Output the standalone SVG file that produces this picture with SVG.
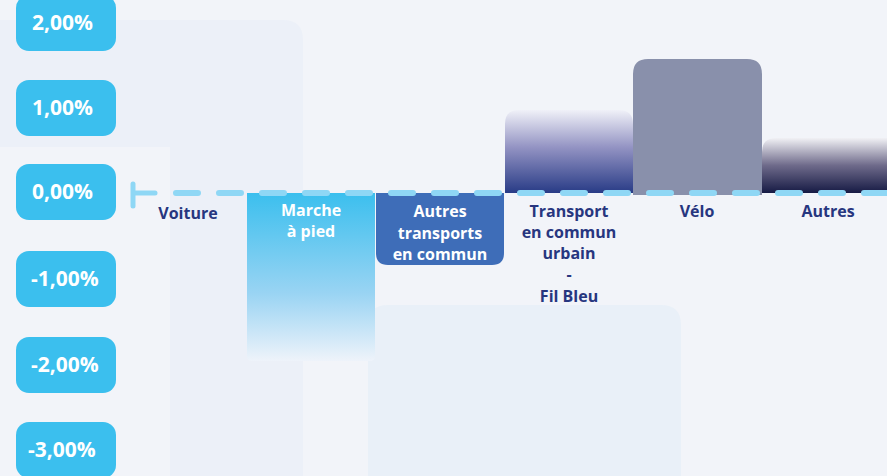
<svg xmlns="http://www.w3.org/2000/svg" width="887" height="476" viewBox="0 0 887 476">
<defs>
<style>
.pill{fill:#3bbfee}
.pt{font-family:"Open Sans","Liberation Sans",sans-serif;font-weight:700;font-size:21px;fill:#ffffff}
.lbl{font-family:"Open Sans","Liberation Sans",sans-serif;font-weight:700;font-size:16px;fill:#27367f;text-anchor:middle}
.lw{fill:#ffffff}
</style>
<linearGradient id="gMarche" x1="0" y1="0" x2="0" y2="1">
<stop offset="0" stop-color="#3bbfee"/>
<stop offset="0.6" stop-color="#9ad4f3"/>
<stop offset="1" stop-color="#eef3fa"/>
</linearGradient>
<linearGradient id="gTcu" x1="0" y1="0" x2="0" y2="1">
<stop offset="0" stop-color="#f0f1f8"/>
<stop offset="0.45" stop-color="#9393c3"/>
<stop offset="1" stop-color="#283b86"/>
</linearGradient>
<linearGradient id="gAutres" x1="0" y1="0" x2="0" y2="1">
<stop offset="0" stop-color="#f1f1f5"/>
<stop offset="0.5" stop-color="#6e6a8a"/>
<stop offset="1" stop-color="#161a44"/>
</linearGradient>
</defs>
<rect width="887" height="476" fill="#f2f4f9"/>
<g id="panels">
<path d="M0 20 H283 Q303 20 303 40 V476 H0 Z" fill="#ecf0f8"/>
<rect x="0" y="147" width="170" height="329" fill="#f2f4f9"/>
<path d="M368 476 V325 Q368 305 388 305 H661 Q681 305 681 325 V476 Z" fill="#e9f0f8"/>
</g>
<g id="axis">
<g id="y2"><rect class="pill" x="16" y="-5" width="100" height="56" rx="13"/><text class="pt" x="32" y="30">2,00%</text></g>
<g id="y1"><rect class="pill" x="16" y="80" width="100" height="56" rx="13"/><text class="pt" x="32" y="115">1,00%</text></g>
<g id="y0"><rect class="pill" x="16" y="164" width="100" height="56" rx="13"/><text class="pt" x="32" y="199">0,00%</text></g>
<g id="ym1"><rect class="pill" x="16" y="251" width="100" height="56" rx="13"/><text class="pt" x="31" y="286">-1,00%</text></g>
<g id="ym2"><rect class="pill" x="16" y="337" width="100" height="56" rx="13"/><text class="pt" x="31" y="372">-2,00%</text></g>
<g id="ym3"><rect class="pill" x="16" y="422" width="100" height="56" rx="13"/><text class="pt" x="28" y="457">-3,00%</text></g>
</g>
<g id="bar-voiture"><text class="lbl" x="188" y="219">Voiture</text></g>
<g id="bar-marche">
<path d="M247 193 H375 V356 Q375 361 370 361 H252 Q247 361 247 356 Z" fill="url(#gMarche)"/>
<text class="lbl lw" x="311" y="216">Marche</text>
<text class="lbl lw" x="311" y="237">à pied</text>
</g>
<g id="bar-atc">
<path d="M376 193 H504 V253 Q504 265 492 265 H388 Q376 265 376 253 Z" fill="#3e6db8"/>
<text class="lbl lw" x="440" y="217">Autres</text>
<text class="lbl lw" x="440" y="239">transports</text>
<text class="lbl lw" x="440" y="260">en commun</text>
</g>
<g id="bar-tcu">
<path d="M505 193 V124 Q505 110 519 110 H619 Q633 110 633 124 V193 Z" fill="url(#gTcu)"/>
<text class="lbl" x="569" y="217">Transport</text>
<text class="lbl" x="569" y="238">en commun</text>
<text class="lbl" x="569" y="259">urbain</text>
<text class="lbl" x="569" y="280">-</text>
<text class="lbl" x="569" y="302">Fil Bleu</text>
</g>
<g id="bar-velo">
<path d="M633 195 V74 Q633 59 648 59 H747 Q762 59 762 74 V195 Z" fill="#8990ab"/>
<text class="lbl" x="697" y="217">Vélo</text>
</g>
<g id="bar-autres">
<path d="M762 193 V152 Q762 138 776 138 H887 V193 Z" fill="url(#gAutres)"/>
<text class="lbl" x="828" y="217">Autres</text>
</g>
<g id="connectors">
<line x1="133" y1="184" x2="133" y2="206" stroke="#8fd7f5" stroke-width="5" stroke-linecap="round"/>
<line x1="135" y1="193" x2="155" y2="193" stroke="#8fd7f5" stroke-width="5" stroke-linecap="round"/>
<line x1="176" y1="193" x2="887" y2="193" stroke="#8fd7f5" stroke-width="6" stroke-linecap="round" stroke-dasharray="22 21"/>
</g>
</svg>
